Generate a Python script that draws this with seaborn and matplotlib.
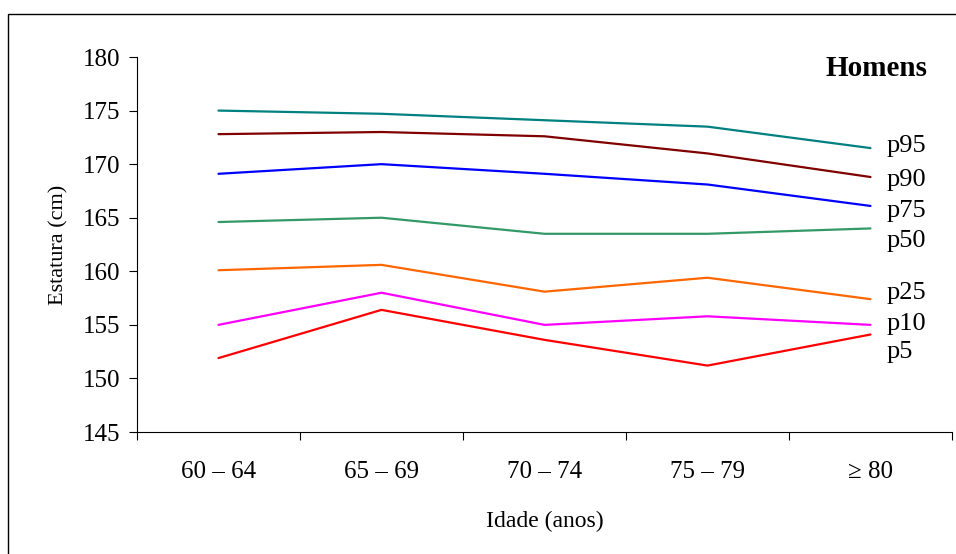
import pandas as pd
import matplotlib.pyplot as plt
import matplotlib.patches as mpatches
from matplotlib.ticker import FixedLocator
import seaborn as sns

# Estatura (cm) por faixa etária - percentis, homens
idades = ["60 – 64", "65 – 69", "70 – 74", "75 – 79", "≥ 80"]
percentis = ["p95", "p90", "p75", "p50", "p25", "p10", "p5"]

p95 = [175.0, 174.7, 174.1, 173.5, 171.5]
p90 = [172.8, 173.0, 172.6, 171.0, 168.8]
p75 = [169.1, 170.0, 169.1, 168.1, 166.1]
p50 = [164.6, 165.0, 163.5, 163.5, 164.0]
p25 = [160.1, 160.6, 158.1, 159.4, 157.4]
p10 = [155.0, 158.0, 155.0, 155.8, 155.0]
p5 = [151.9, 156.4, 153.6, 151.2, 154.1]

# y of the right-hand labels (data units)
label_y = [171.7, 168.5, 165.6, 162.8, 158.0, 155.1, 152.5]

cores = {
    "p95": "#008080",
    "p90": "#800000",
    "p75": "#0000FF",
    "p50": "#339966",
    "p25": "#FF6600",
    "p10": "#FF00FF",
    "p5": "#FF0000",
}

series = dict(zip(percentis, [p95, p90, p75, p50, p25, p10, p5]))
rows = []
for p, vals in series.items():
    for idade, v in zip(idades, vals):
        rows.append({"idade": idade, "estatura": v, "percentil": p})
df = pd.DataFrame(rows)

sns.set_style("ticks")
plt.rcParams['font.family'] = ['Liberation Serif', 'DejaVu Serif']
for k in ['text.color', 'axes.labelcolor', 'xtick.color', 'ytick.color', 'axes.edgecolor']:
    plt.rcParams[k] = 'black'

fig = plt.figure(figsize=(9.56, 5.54), dpi=100)
ax = fig.add_axes([0.1433, 0.2202, 0.8525, 0.6769])

# outer frame of the chart area
fig.patches.append(mpatches.Rectangle((8 / 956, -0.1), 1.2, 0.9747 + 0.1,
                                      transform=fig.transFigure, fill=False,
                                      edgecolor='black', linewidth=1.0))

sns.lineplot(data=df, x="idade", y="estatura", hue="percentil",
             palette=cores, hue_order=percentis, sort=False,
             linewidth=1.6, legend=False, ax=ax)

ax.set_xlim(-0.5, 4.5)
ax.set_ylim(145, 180)
ax.set_yticks(range(145, 181, 5))
ax.tick_params(axis='y', labelsize=18, length=6, width=0.8, direction='out', pad=6)

# category labels in the middle, tick marks on the boundaries
ax.xaxis.set_major_locator(FixedLocator([i - 0.5 for i in range(len(idades) + 1)]))
ax.xaxis.set_minor_locator(FixedLocator(range(len(idades))))
ax.set_xticklabels([""] * (len(idades) + 1))
ax.set_xticklabels(idades, minor=True)
ax.tick_params(axis='x', which='major', length=6, width=0.8, direction='out')
ax.tick_params(axis='x', which='minor', length=0, labelsize=18, pad=21)

sns.despine(ax=ax)
for s in ["left", "bottom"]:
    ax.spines[s].set_linewidth(0.8)

ax.set_xlabel("Idade (anos)", fontsize=17, labelpad=20)
ax.set_ylabel("Estatura (cm)", fontsize=16, labelpad=10)

for p, y in zip(percentis, label_y):
    ax.text(4.1, y, p, fontsize=19, va='center', ha='left')

ax.text(4.35, 178.9, "Homens", fontsize=21, fontweight='bold', ha='right', va='center')

fig.savefig("out.png", dpi=100)
